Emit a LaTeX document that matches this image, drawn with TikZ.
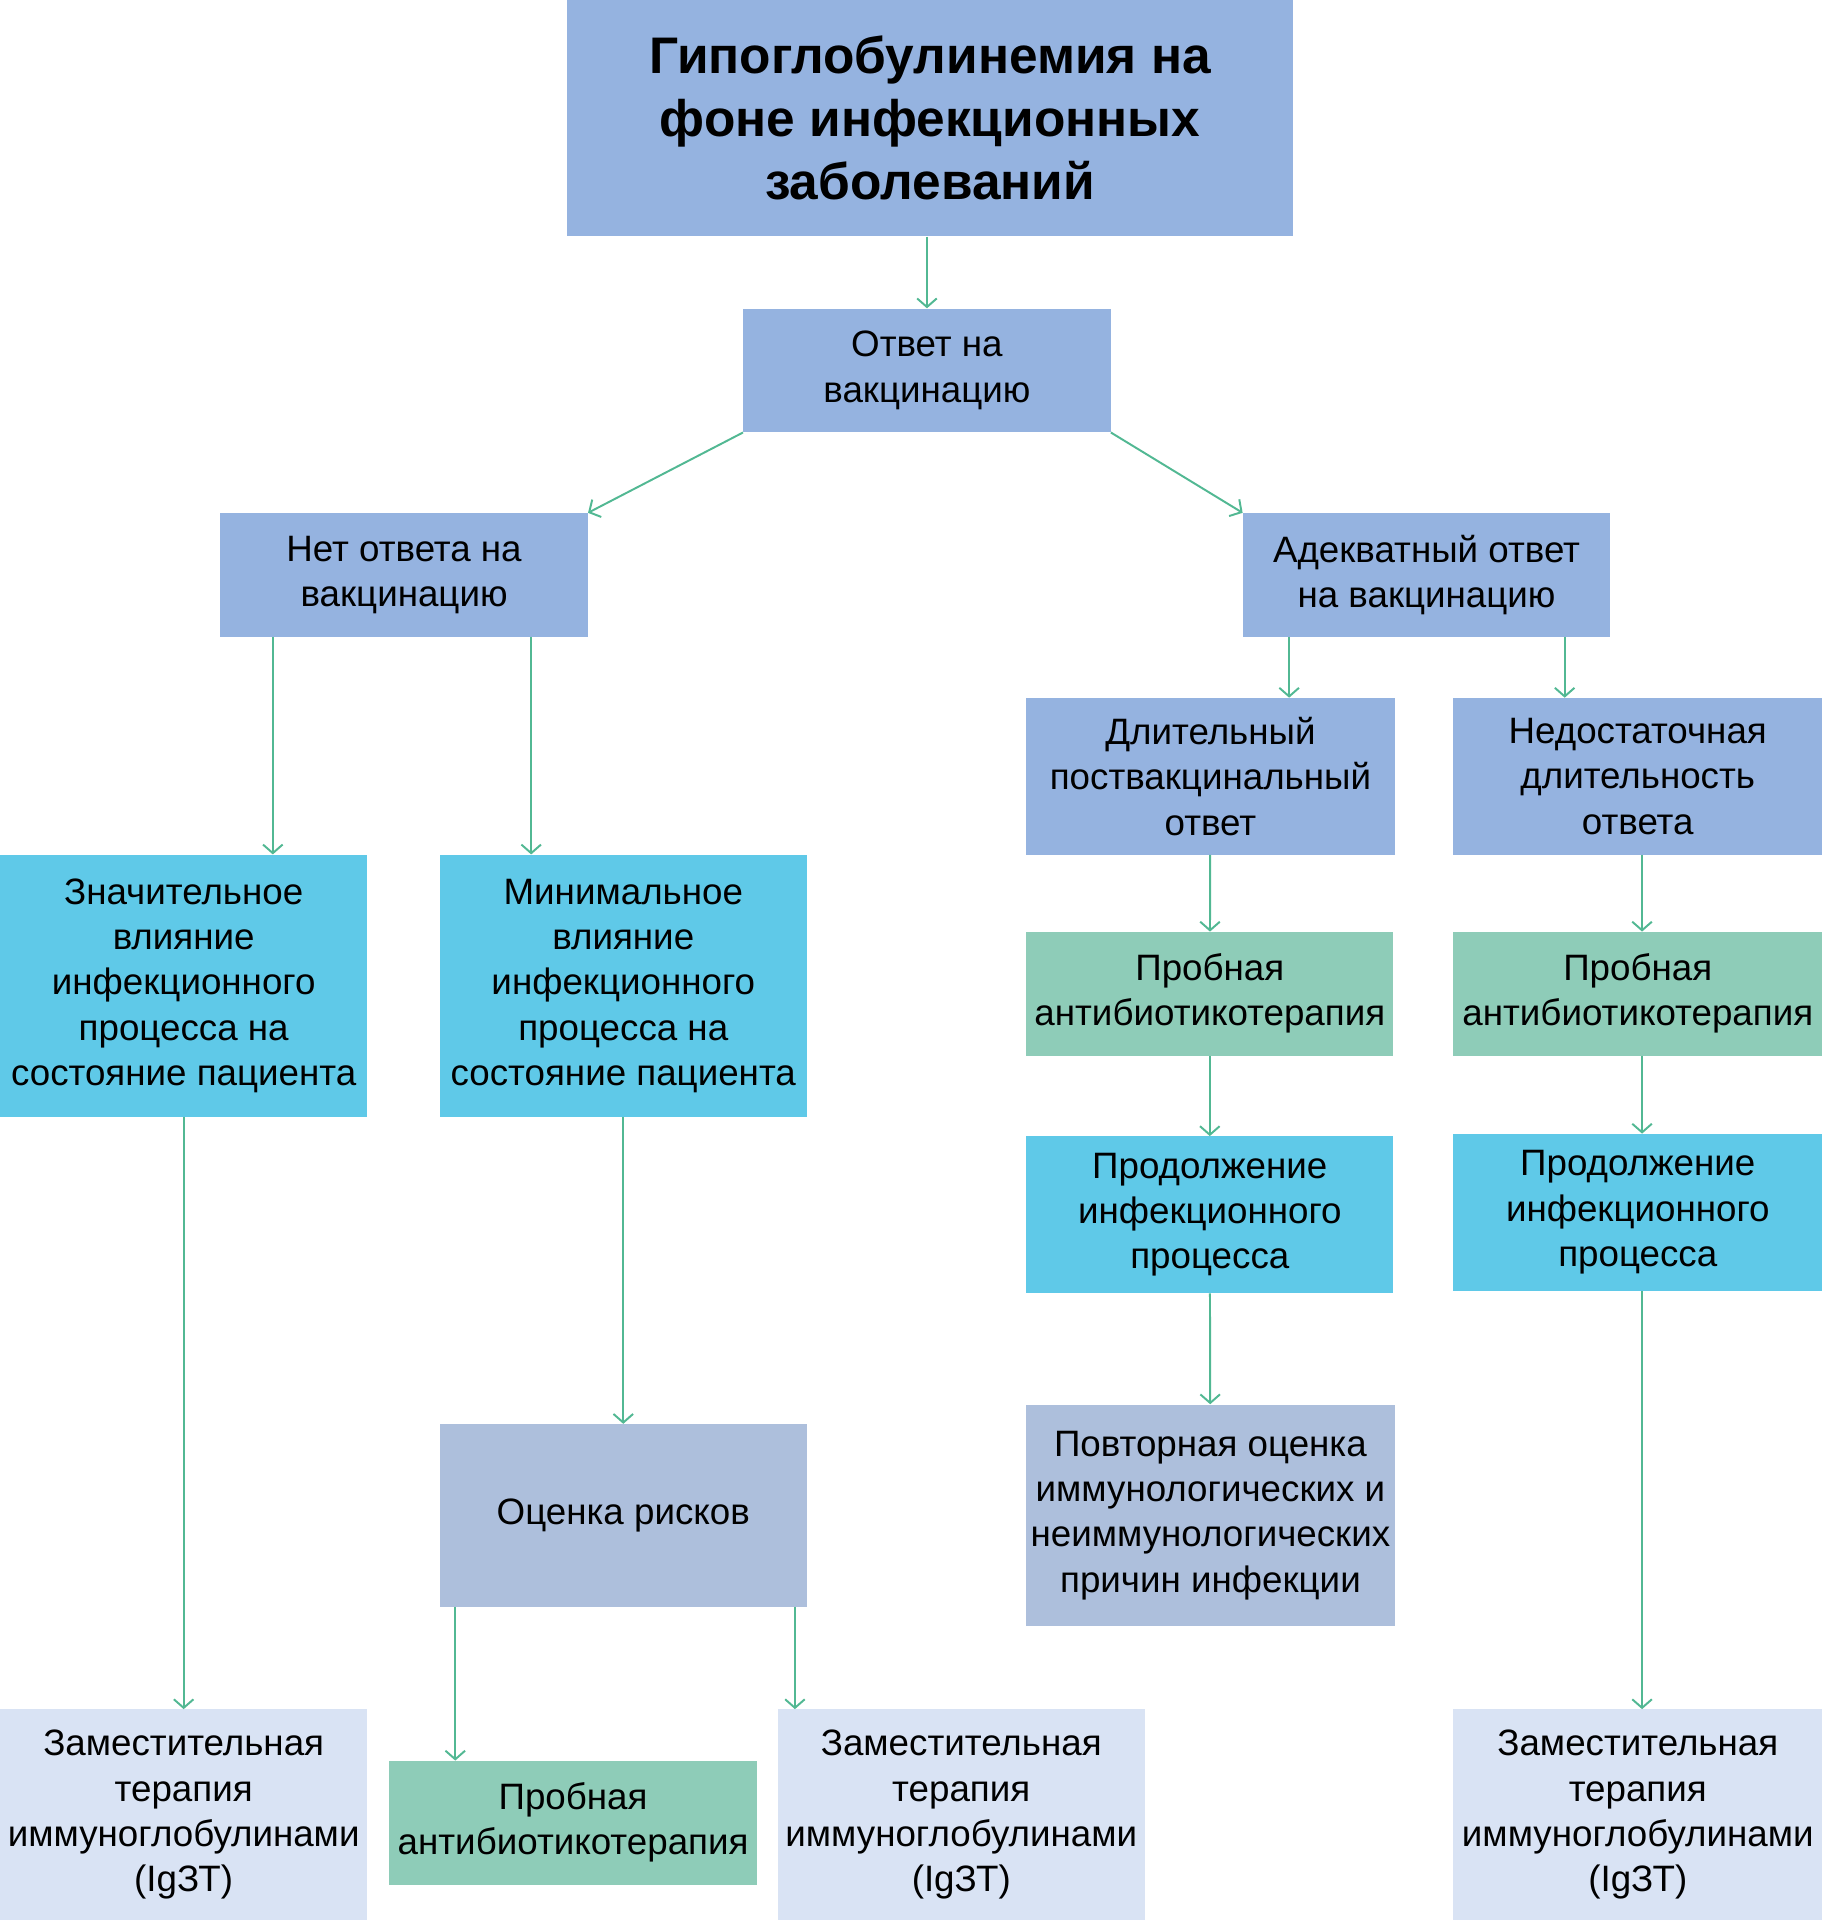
\documentclass[tikz,border=0pt]{standalone}
\usepackage{fontspec}
\setmainfont{Liberation Sans}
\usetikzlibrary{arrows.meta}

\definecolor{boxblue}{RGB}{149,179,224}
\definecolor{boxcyan}{RGB}{95,201,232}
\definecolor{boxgreen}{RGB}{142,204,184}
\definecolor{boxgrey}{RGB}{173,191,220}
\definecolor{boxpale}{RGB}{217,227,244}
\definecolor{linegreen}{RGB}{82,184,147}

\begin{document}
\begin{tikzpicture}[x=1pt,y=-1pt,
  box/.style={inner sep=0pt,align=center,minimum width=300pt,
    font=\fontsize{30}{37}\selectfont},
  arr/.style={draw=linegreen,line width=1.6pt,
    -{Straight Barb[length=7pt,width=16pt,line width=1.6pt]}}]
\useasboundingbox (0,0) rectangle (1488,1568);
\node [box,fill=boxblue,minimum width=593pt,minimum height=193pt,
  font=\bfseries\fontsize{42}{51.5}\selectfont] (top) at (759.5,96.5)
  {Гипоглобулинемия на\\фоне инфекционных\\заболеваний};
\node [box,fill=boxblue,minimum height=101pt] (otv) at (757,302.5) {Ответ на\\вакцинацию};
\node [box,fill=boxblue,minimum height=101pt] (net) at (330,469.5) {Нет ответа на\\вакцинацию};
\node [box,fill=boxblue,minimum height=101pt] (adek) at (1165,469.5) {Адекватный ответ\\на вакцинацию};
\node [box,fill=boxblue,minimum width=301pt,minimum height=128pt] (dlit) at (988.5,634) {Длительный\\поствакцинальный\\ответ};
\node [box,fill=boxblue,minimum width=301pt,minimum height=128pt] (nedost) at (1337.5,634) {Недостаточная\\длительность\\ответа};
\node [box,fill=boxcyan,minimum height=214pt] (znach) at (150,805) {Значительное\\влияние\\инфекционного\\процесса на\\состояние пациента};
\node [box,fill=boxcyan,minimum height=214pt] (minim) at (509,805) {Минимальное\\влияние\\инфекционного\\процесса на\\состояние пациента};
\node [box,fill=boxgreen,minimum height=101pt] (prob1) at (988,811.5) {Пробная\\антибиотикотерапия};
\node [box,fill=boxgreen,minimum width=301pt,minimum height=101pt] (prob2) at (1337.5,811.5) {Пробная\\антибиотикотерапия};
\node [box,fill=boxcyan,minimum height=128pt] (prod1) at (988,992) {Продолжение\\инфекционного\\процесса};
\node [box,fill=boxcyan,minimum width=301pt,minimum height=128pt] (prod2) at (1337.5,990) {Продолжение\\инфекционного\\процесса};
\node [box,fill=boxgrey,minimum height=149pt] (ocenka) at (509,1237.5) {Оценка рисков};
\node [box,fill=boxgrey,minimum width=301pt,minimum height=181pt] (povt) at (988.5,1237.5) {Повторная оценка\\иммунологических и\\неиммунологических\\причин инфекции};
\node [box,fill=boxpale,minimum height=172pt] (zam1) at (150,1482) {Заместительная\\терапия\\иммуноглобулинами\\(IgЗТ)};
\node [box,fill=boxpale,minimum height=172pt] (zam2) at (785,1482) {Заместительная\\терапия\\иммуноглобулинами\\(IgЗТ)};
\node [box,fill=boxpale,minimum width=301pt,minimum height=172pt] (zam3) at (1337.5,1482) {Заместительная\\терапия\\иммуноглобулинами\\(IgЗТ)};
\node [box,fill=boxgreen,minimum height=101pt] (prob3) at (468,1488.5) {Пробная\\антибиотикотерапия};
% connectors
\draw [arr] (otv.north |- top.south) -- (otv.north);
\draw [arr] (otv.south west) -- (net.north east);
\draw [arr] (otv.south east) -- (adek.north west);
\draw [arr] ([xshift=43pt]net.south west) coordinate (n1) -- (n1 |- znach.north);
\draw [arr] ([xshift=254pt]net.south west) coordinate (n2) -- (n2 |- minim.north);
\draw [arr] ([xshift=38pt]adek.south west) coordinate (a1) -- (a1 |- dlit.north);
\draw [arr] ([xshift=263pt]adek.south west) coordinate (a2) -- (a2 |- nedost.north);
\draw [arr] (dlit) -- (prob1);
\draw [arr] (prob1) -- (prod1);
\draw [arr] (prod1) -- (povt);
\draw [arr] ([xshift=3.5pt]nedost.south) coordinate (d1) -- (d1 |- prob2.north);
\draw [arr] ([xshift=3.5pt]prob2.south) coordinate (d2) -- (d2 |- prod2.north);
\draw [arr] ([xshift=3.5pt]prod2.south) coordinate (d3) -- (d3 |- zam3.north);
\draw [arr] (znach) -- (zam1);
\draw [arr] (minim) -- (ocenka);
\draw [arr] ([xshift=13pt]ocenka.south west) coordinate (o1) -- (o1 |- prob3.north);
\draw [arr] ([xshift=-10pt]ocenka.south east) coordinate (o2) -- (o2 |- zam2.north);
\end{tikzpicture}
\end{document}
